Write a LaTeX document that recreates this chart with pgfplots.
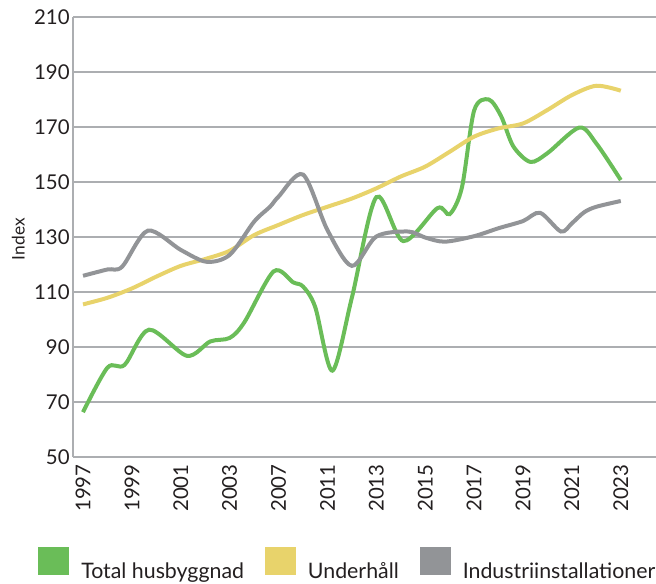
\documentclass[border=0pt]{standalone}
\usepackage{fontspec}
\setmainfont{Lato}
\usepackage{pgfplots}
\pgfplotsset{compat=1.18}
\definecolor{cgreen}{HTML}{6ABD58}
\definecolor{cyellow}{HTML}{E8D36B}
\definecolor{cgray}{HTML}{929497}
\definecolor{cgrid}{HTML}{ACAEB1}
\definecolor{ctext}{HTML}{231F20}

\begin{document}
\begin{tikzpicture}
\begin{axis}[
  name=ax,
  scale only axis,
  width=437.25pt, height=330pt,
  xmin=-0.41, xmax=23.44,
  ymin=50, ymax=210,
  ytick={50,70,...,210},
  xtick={0,2,...,22},
  xticklabels={1997,1999,2001,2003,2007,2011,2013,2015,2017,2019,2021,2023},
  x tick label style={rotate=90, anchor=east, xshift=-2pt},
  y tick label style={xshift=1pt},
  axis x line*=bottom, axis y line*=left,
  axis line style={cgrid, line width=1.1pt},
  ymajorgrids, grid style={cgrid, line width=1.1pt},
  major tick length=0pt,
  tick label style={font=\fontsize{15.3}{17}\selectfont, text=ctext},
  /pgf/number format/assume math mode=true,
  ylabel={Index},
  ylabel style={at={(axis description cs:-0.094,0.495)}, anchor=center, font=\fontsize{13}{15}\selectfont, text=ctext},
  legend style={at={(axis description cs:-0.06,-0.281)}, anchor=south west, draw=none,
    inner sep=0pt, nodes={inner sep=0pt},
    font=\fontsize{16}{18}\selectfont, text=ctext,
    /tikz/every odd column/.append style={column sep=9pt},
    /tikz/every even column/.append style={column sep=15.75pt}},
  legend columns=3,
  legend image code/.code={\fill[#1] (0pt,-1pt) rectangle (20.25pt,16.5pt);},
]
% Total husbyggnad
\addplot[color=cgreen, line width=3pt, smooth] coordinates {
  (0,66.3) (1,82.5) (1.7,83.5) (2.7,96.3) (4.25,86.8) (5.2,92) (6,93.3) (6.6,99)
  (7.8,117.5) (8.6,113.5) (9,112) (9.5,104.5) (10.2,81.4) (11,108) (12,144.5)
  (13.1,128.5) (14.5,140.5) (15,138.3) (15.5,148) (16,176) (16.6,180) (17.1,174)
  (17.6,163) (18.3,157.3) (19,160.5) (20.3,169.8) (21,164) (22,150.7)
};
% Underhåll
\addplot[color=cyellow, line width=3pt, smooth] coordinates {
  (0,105.5) (1,107.9) (2,111.3) (3,115.6) (4,119.5) (5,122) (6,125) (7,130.7)
  (8,134.4) (9,138) (10,141) (11,144) (12,147.7) (13,152) (14,155.6) (15,161)
  (16,166.5) (17,169.5) (18,171.3) (19,176.2) (20,181.6) (21,185) (22,183.2)
};
% Industriinstallationer
\addplot[color=cgray, line width=3pt, smooth] coordinates {
  (0,115.9) (1,118.2) (1.6,119.2) (2.65,132.3) (4,125.3) (5.05,121) (6,123.5)
  (7,135.6) (7.65,141) (8,144.7) (9,152.7) (10,132.5) (11,119.5) (12,130.2)
  (13.3,132) (14,129.8) (14.8,128.3) (16,130.3) (17,133.2) (18,135.8)
  (18.7,138.8) (19.55,132) (20,135) (20.5,139) (21,141) (22,143.1)
};
\legend{Total husbyggnad, Underhåll, Industriinstallationer}
\end{axis}
\pgfresetboundingbox
\path[use as bounding box] ([shift={(-54.75pt,-94.5pt)}]ax.south west) rectangle ([shift={(0pt,12.75pt)}]ax.north east);
\end{tikzpicture}
\end{document}
